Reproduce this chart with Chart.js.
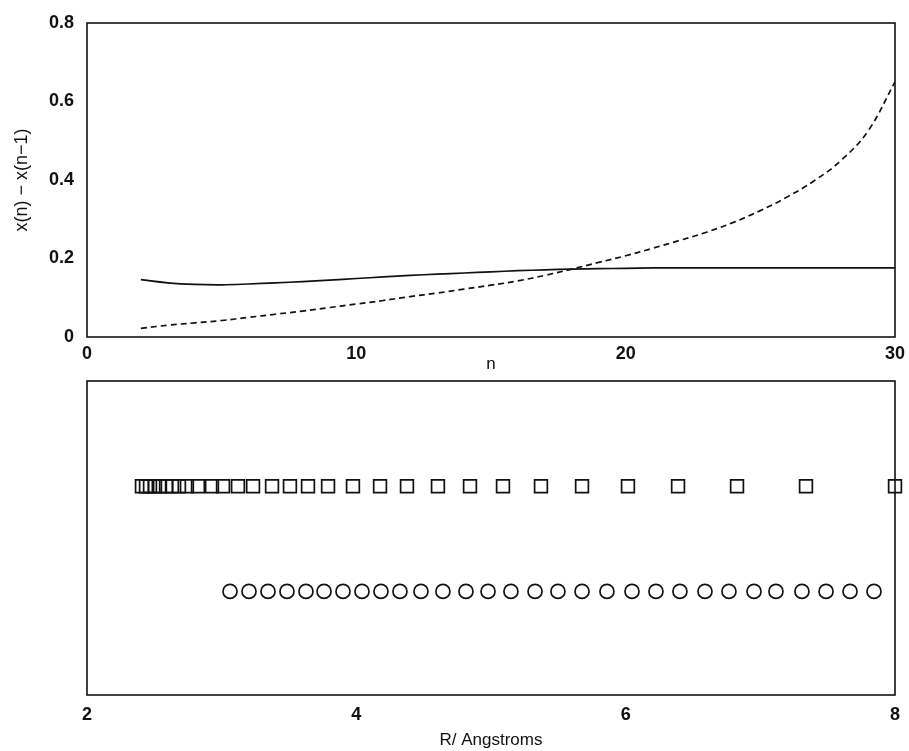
<!DOCTYPE html>
<html><head><meta charset="utf-8">
<script src="https://cdn.jsdelivr.net/npm/chart.js@4.4.1/dist/chart.umd.min.js"></script>
<style>
body{margin:0;background:#fff;width:909px;height:751px;position:relative;overflow:hidden}
.w{position:absolute;left:0;width:909px}
</style></head><body>
<div class="w" style="top:0;height:375px"><canvas id="c1"></canvas></div>
<div class="w" style="top:375px;height:376px"><canvas id="c2"></canvas></div>
<script>
// ---- top panel data: spacing x(n) - x(n-1) versus n ----
const nValues = [2,3,4,5,6,7,8,9,10,11,12,13,14,15,16,17,18,19,20,21,22,23,24,25,26,27,28,29,30];
const solidSpacing = [0.146,0.138,0.134,0.133,0.135,0.138,0.141,0.145,0.149,0.153,0.157,0.160,0.163,0.166,0.169,0.171,0.173,0.174,0.175,0.176,0.176,0.176,0.176,0.176,0.176,0.176,0.176,0.176,0.176];
const dashedSpacing = [0.022,0.030,0.036,0.042,0.050,0.058,0.066,0.075,0.084,0.093,0.103,0.112,0.122,0.132,0.143,0.157,0.173,0.190,0.207,0.226,0.246,0.267,0.292,0.322,0.357,0.398,0.450,0.525,0.650];
const topXTicks = [0,10,20,30];
const topYTicks = [0,0.2,0.4,0.6,0.8];
// ---- bottom panel data: grid point positions R (Angstroms) ----
const squareR = [2.408,2.438,2.468,2.505,2.542,2.587,2.631,2.683,2.742,2.824,2.928,3.010,3.121,3.233,3.374,3.507,3.641,3.790,3.975,4.176,4.376,4.606,4.844,5.089,5.371,5.676,6.017,6.389,6.827,7.339,8.000];
const circleR = [3.062,3.203,3.344,3.485,3.626,3.760,3.901,4.042,4.183,4.324,4.480,4.643,4.814,4.978,5.148,5.327,5.497,5.676,5.861,6.047,6.225,6.403,6.589,6.767,6.953,7.116,7.309,7.488,7.666,7.844];
const squareRow = 0.665;
const circleRow = 0.33;
const bottomXTicks = [2,4,6,8];

const FONT = {family:'"Liberation Sans", Arial, sans-serif', size:18, weight:'bold'};
const TFONT = {family:'"Liberation Sans", Arial, sans-serif', size:17};
const INK = '#111';

const boxPlugin = {
  id:'box',
  afterDatasetsDraw(chart){
    const {ctx, chartArea:a} = chart;
    ctx.save();
    ctx.strokeStyle = INK; ctx.lineWidth = 1.6;
    ctx.strokeRect(a.left, a.top, a.right-a.left, a.bottom-a.top);
    ctx.restore();
  }
};

function fixX(h){ return function(s){ s.height = h; s.paddingLeft = 0; s.paddingRight = 0; }; }

new Chart(document.getElementById('c1'), {
  type:'line',
  data:{datasets:[
    {data:nValues.map((n,i)=>({x:n,y:solidSpacing[i]})), borderColor:INK, borderWidth:1.7, pointRadius:0, tension:0.4, fill:false},
    {data:nValues.map((n,i)=>({x:n,y:dashedSpacing[i]})), borderColor:INK, borderWidth:1.7, borderDash:[6,4], pointRadius:0, tension:0.4, fill:false}
  ]},
  options:{
    responsive:true, maintainAspectRatio:false, animation:false,
    layout:{autoPadding:false, padding:{top:23,right:14,left:0,bottom:0}},
    plugins:{legend:{display:false},tooltip:{enabled:false}},
    scales:{
      x:{type:'linear',min:0,max:30,
        afterBuildTicks(s){s.ticks=topXTicks.map(v=>({value:v}));},
        afterFit:fixX(38),
        grid:{display:false,drawTicks:false}, border:{display:false},
        ticks:{color:INK,font:FONT,padding:6,maxRotation:0},
        title:{display:true,text:'n',color:INK,font:TFONT,padding:{top:0,bottom:0}}},
      y:{min:0,max:0.8,
        afterBuildTicks(s){s.ticks=topYTicks.map(v=>({value:v}));},
        afterFit(s){s.width=87; s.paddingTop=0; s.paddingBottom=0;},
        grid:{display:false,drawTicks:false}, border:{display:false},
        ticks:{color:INK,font:FONT,padding:13},
        title:{display:true,text:'x(n) \u2212 x(n\u22121)',color:INK,font:{family:TFONT.family,size:18},padding:{top:11,bottom:0}}}
    }
  },
  plugins:[boxPlugin]
});

new Chart(document.getElementById('c2'), {
  type:'scatter',
  data:{datasets:[
    {data:squareR.map(r=>({x:r,y:squareRow})), pointStyle:'rect', pointRadius:9, borderColor:INK, borderWidth:1.7, backgroundColor:'rgba(0,0,0,0)', clip:false},
    {data:circleR.map(r=>({x:r,y:circleRow})), pointStyle:'circle', pointRadius:7, borderColor:INK, borderWidth:1.7, backgroundColor:'rgba(0,0,0,0)', clip:false}
  ]},
  options:{
    responsive:true, maintainAspectRatio:false, animation:false,
    layout:{autoPadding:false, padding:{top:6,right:14,left:87,bottom:0}},
    plugins:{legend:{display:false},tooltip:{enabled:false}},
    scales:{
      x:{type:'linear',min:2,max:8,
        afterBuildTicks(s){s.ticks=bottomXTicks.map(v=>({value:v}));},
        afterFit:fixX(56),
        grid:{display:false,drawTicks:false}, border:{display:false},
        ticks:{color:INK,font:FONT,padding:9,maxRotation:0},
        title:{display:true,text:'R/ Angstroms',color:INK,font:TFONT,padding:{top:0,bottom:0}}},
      y:{display:false,min:0,max:1}
    }
  },
  plugins:[boxPlugin]
});
</script>
</body></html>
